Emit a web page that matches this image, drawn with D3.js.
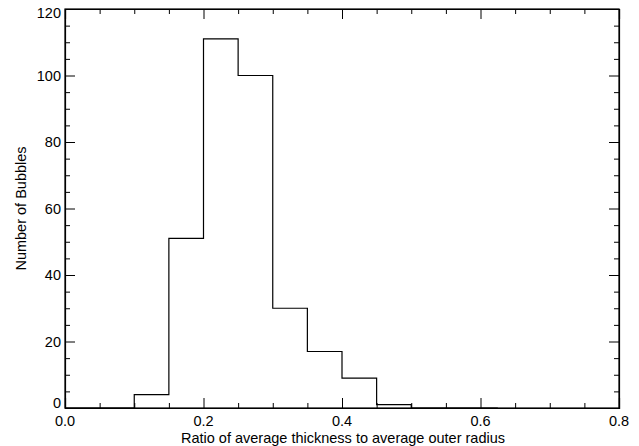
<!DOCTYPE html>
<html>
<head>
<meta charset="utf-8">
<script src="https://cdn.jsdelivr.net/npm/d3@7"></script>
<style>
  body { margin: 0; background: #fff; }
  svg text { font-family: "Liberation Sans", Arial, sans-serif; fill: #000; }
</style>
</head>
<body>
<svg id="chart"></svg>
<script>
var binEdges = [0, 0.05, 0.10, 0.15, 0.20, 0.25, 0.30, 0.35, 0.40, 0.45, 0.50, 0.55, 0.60, 0.625]
var counts   = [0, 0, 4, 51, 111, 100, 30, 17, 9, 1, 0, 0, 0]
var xTicks = [0.0, 0.2, 0.4, 0.6, 0.8]
var yTicks = [0, 20, 40, 60, 80, 100, 120]

var dimensions = {
    width: 639,
    height: 446,
    margin: { top: 9, bottom: 38, right: 20, left: 65 }
}

var svg = d3.select("#chart")
            .attr("width", dimensions.width)
            .attr("height", dimensions.height)

var xScale = d3.scaleLinear()
               .domain([0, 0.8])
               .range([dimensions.margin.left, dimensions.width - dimensions.margin.right])

var yScale = d3.scaleLinear()
             .domain([0, 120])
             .range([dimensions.height - dimensions.margin.bottom, dimensions.margin.top])

var x0 = xScale.range()[0], x1 = xScale.range()[1]
var y0 = yScale.range()[0], y1 = yScale.range()[1]

// histogram outline
var pts = []
counts.forEach(function(c, i) {
    pts.push([xScale(binEdges[i]), yScale(c)])
    pts.push([xScale(binEdges[i + 1]), yScale(c)])
})
svg.append("path")
   .attr("d", d3.line()(pts))
   .attr("fill", "none")
   .attr("stroke", "#000")
   .attr("stroke-width", 1.2)

// minor tick values
var xMinor = d3.range(0, 0.8001, 0.05).filter(v => xTicks.every(t => Math.abs(t - v) > 1e-6))
var yMinor = d3.range(0, 120.01, 5).filter(v => yTicks.indexOf(v) < 0)

function tickAxis(gen, scale, major, minor, transform) {
    var g = svg.append("g").attr("transform", transform)
    g.call(gen(scale).tickValues(major).tickSize(10).tickFormat(""))
    var g2 = svg.append("g").attr("transform", transform)
    g2.call(gen(scale).tickValues(minor).tickSize(5).tickFormat(""))
    g2.select(".domain").remove()
    ;[g, g2].forEach(function(s) {
        s.selectAll("line").attr("stroke", "#000").attr("stroke-width", 1)
        s.select(".domain").attr("stroke", "#000").attr("stroke-width", 1.2)
    })
}

// ticks point inward on all four sides
tickAxis(d3.axisTop, xScale, xTicks, xMinor, `translate(0,${y0})`)
tickAxis(d3.axisBottom, xScale, xTicks, xMinor, `translate(0,${y1})`)
tickAxis(d3.axisRight, yScale, yTicks, yMinor, `translate(${x0},0)`)
tickAxis(d3.axisLeft, yScale, yTicks, yMinor, `translate(${x1},0)`)

// box
svg.append("rect")
   .attr("x", x0).attr("y", y1)
   .attr("width", x1 - x0).attr("height", y0 - y1)
   .attr("fill", "none").attr("stroke", "#000").attr("stroke-width", 1.2)

// tick labels
svg.append("g").selectAll("text")
   .data(xTicks).enter().append("text")
   .attr("x", d => xScale(d))
   .attr("y", y0 + 18)
   .attr("text-anchor", "middle")
   .style("font-size", "14.5px")
   .text(d => d3.format(".1f")(d))

// end labels are nudged inside the axis span, as IDL does
svg.append("g").selectAll("text")
   .data(yTicks).enter().append("text")
   .attr("x", x0 - 4)
   .attr("y", d => Math.min(Math.max(yScale(d) + 5, y1 + 9), y0))
   .attr("text-anchor", "end")
   .style("font-size", "14.5px")
   .text(d => d)

// axis titles
svg.append("text")
   .attr("x", (x0 + x1) / 2 + 1)
   .attr("y", dimensions.height - 3)
   .attr("text-anchor", "middle")
   .style("font-size", "14.5px")
   .text("Ratio of average thickness to average outer radius")

svg.append("text")
   .attr("transform", `translate(26,${(y0 + y1) / 2}) rotate(-90)`)
   .attr("text-anchor", "middle")
   .style("font-size", "14.5px")
   .text("Number of Bubbles")
</script>
</body>
</html>
